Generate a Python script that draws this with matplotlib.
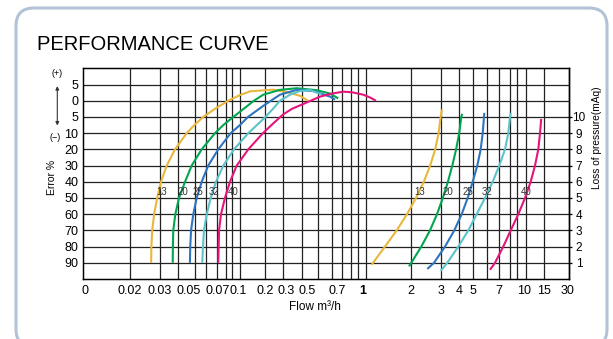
import numpy as np
import matplotlib
matplotlib.use("Agg")
import matplotlib.pyplot as plt
from matplotlib.patches import FancyBboxPatch, FancyArrowPatch
from matplotlib.transforms import IdentityTransform, ScaledTranslation

plt.rcParams["font.family"] = ["Liberation Sans", "DejaVu Sans"]

# printed flow ruler of the chart paper (m3/h) and where its lines fall (px)
SCALE_FLOW = [0.01, 0.02, 0.03, 0.05, 0.06, 0.07, 0.08, 0.09, 0.1, 0.12, 0.2, 0.3, 0.5,
              0.6, 0.7, 0.8, 0.9, 0.95, 1, 2, 3, 4, 5, 6, 7, 8, 9, 10, 15, 30]
SCALE_POS = [82.7, 130, 160, 177.7, 194.7, 205.7, 216.7, 226, 232.3, 240, 264.7, 283.3, 302.3,
             318.3, 332, 341.7, 351, 358.3, 365.7, 410.7, 440.7, 459, 473.3, 487.3, 499.3,
             510, 517.3, 525.7, 544, 569.3]

flow_ticks = [0, 0.02, 0.03, 0.05, 0.07, 0.1, 0.2, 0.3, 0.5, 0.7, 1, 2, 3, 4, 5, 7, 10, 15, 30]
flow_labels = ["0", "0.02", "0.03", "0.05", "0.07", "0.1", "0.2", "0.3", "0.5", "0.7",
               "1", "2", "3", "4", "5", "7", "10", "15", "30"]
# the printed labels sit a little off their lines (px)
label_shift = {"0": 2, "0.05": 11, "0.07": 12, "0.1": 6, "0.3": 3, "0.5": 4.5, "0.7": 5,
               "1": -3, "10": -1.5, "30": -1.5}

error_ticks = [-90, -80, -70, -60, -50, -40, -30, -20, -10, -5, 0, 5]
error_labels = ["90", "80", "70", "60", "50", "40", "30", "20", "10", "5", "0", "5"]
loss_ticks = [1, 2, 3, 4, 5, 6, 7, 8, 9, 10]

meters = ["13", "20", "25", "32", "40"]
colors = ["#E9B73A", "#00A651", "#2E74BF", "#5BC3CB", "#E6157B"]

# error curves: flow (m3/h) vs error (%)
err13_flow = [0.0266, 0.0267, 0.0270, 0.0277, 0.0289, 0.0309, 0.0364, 0.0463, 0.0551, 0.0598,
              0.0677, 0.0783, 0.0935, 0.120, 0.148, 0.240, 0.329, 0.470, 0.535]
err13_val = [-90, -80, -70, -60, -50, -40, -30, -20, -10, -7.5, -5, -2.5, 0, 1.75, 2.9, 3.4,
             2.7, 1.5, 0]
err20_flow = [0.0433, 0.0435, 0.0440, 0.0467, 0.0507, 0.0541, 0.0581, 0.0662, 0.0784, 0.087,
              0.1024, 0.120, 0.160, 0.194, 0.279, 0.430, 0.589, 0.685, 0.763]
err20_val = [-90, -80, -70, -60, -50, -40, -30, -20, -10, -7.5, -5, -3.4, 0, 1.85, 3.35, 3.85,
             3.25, 2.2, 0.7]
err25_flow = [0.0570, 0.0572, 0.0577, 0.0591, 0.0617, 0.0662, 0.0722, 0.0816, 0.0974, 0.120,
              0.1416, 0.194, 0.229, 0.279, 0.430, 0.567, 0.685, 0.730]
err25_val = [-90, -80, -70, -60, -50, -40, -30, -20, -10, -7.5, -5, -1.6, 0, 1.85, 3.35, 3.0,
             1.25, 0.35]
err32_flow = [0.0667, 0.0674, 0.0683, 0.0709, 0.0744, 0.0793, 0.0870, 0.1041, 0.1425, 0.1705,
              0.2035, 0.2396, 0.2792, 0.3592, 0.4701, 0.5458, 0.6254]
err32_val = [-90, -80, -70, -60, -50, -40, -30, -20, -10, -7.5, -5, -2.5, 0, 1.85, 3.0, 3.3, 1.9]
err40_flow = [0.0816, 0.0820, 0.0824, 0.0845, 0.0888, 0.0962, 0.111, 0.1425, 0.193, 0.241,
              0.300, 0.379, 0.506, 0.611, 0.700, 0.816, 0.907, 0.984, 1.069, 1.172]
err40_val = [-90, -80, -70, -60, -50, -40, -30, -20, -10, -7, -4.2, -2.5, -1.0, 1.25, 2.2, 2.8,
             2.6, 1.85, 1.0, 0]

# pressure loss curves: flow (m3/h) vs loss (mAq)
p13_flow = [1.097, 1.119, 1.346, 1.612, 1.889, 2.148, 2.388, 2.603, 2.785, 2.917, 2.996, 3.062]
p13_loss = [0.87, 1, 2, 3, 4, 5, 6, 7, 8, 9, 10, 10.46]
p20_flow = [1.949, 2.016, 2.308, 2.596, 2.854, 3.101, 3.360, 3.601, 3.822, 4.012, 4.147, 4.212]
p20_loss = [0.78, 1, 2, 3, 4, 5, 6, 7, 8, 9, 10, 10.19]
p25_flow = [2.503, 2.741, 3.211, 3.715, 4.173, 4.581, 4.954, 5.268, 5.506, 5.651, 5.747, 5.770]
p25_loss = [0.62, 1, 2, 3, 4, 5, 6, 7, 8, 9, 10, 10.25]
p32_flow = [3.0, 3.328, 3.957, 4.626, 5.227, 5.823, 6.432, 7.0, 7.516, 7.833, 8.0, 8.091]
p32_loss = [0.5, 1, 2, 3, 4, 5, 6, 7, 8, 9, 10, 10.25]
p40_flow = [6.212, 6.624, 7.357, 8.091, 9.115, 9.913, 11.17, 12.29, 13.22, 13.73, 14.1]
p40_loss = [0.57, 1, 2, 3, 4, 5, 6, 7, 8, 9, 9.88]

# where the meter sizes are written on the curves
err_label_flow = [0.0315, 0.0531, 0.0631, 0.0777, 0.1024]
err_label_val = -46.5
loss_label_flow = [2.247, 3.349, 4.581, 5.954, 10.22]
loss_label_val = 5.35


def flow_to_pos(x):
    x = np.clip(np.asarray(x, dtype=float), SCALE_FLOW[0], None)
    return np.interp(np.log10(x), np.log10(SCALE_FLOW), SCALE_POS)


def pos_to_flow(p):
    return 10 ** np.interp(np.asarray(p, dtype=float), SCALE_POS, np.log10(SCALE_FLOW))


def err_row(e):
    # error % rows are printed unevenly (5, 0, 5, 10, 20 ... 90)
    return np.interp(e, error_ticks, np.arange(1, len(error_ticks) + 1))


fig = plt.figure(figsize=(6.13, 3.39), dpi=100)
ax = fig.add_axes([82.7 / 613, 60 / 339, 486.6 / 613, 210.7 / 339])
ax.set_xscale("function", functions=(flow_to_pos, pos_to_flow))
ax.set_xlim(0, 30)
ax.set_ylim(0, 13)

# chart paper grid
for f in SCALE_FLOW[1:-1]:
    ax.axvline(f, color="#222222", lw=0.9, zorder=1)
for r in range(1, 13):
    ax.axhline(r, color="#222222", lw=0.9, zorder=1)
for s in ax.spines.values():
    s.set_linewidth(1.0)

err_curves = [(err13_flow, err13_val), (err20_flow, err20_val), (err25_flow, err25_val),
              (err32_flow, err32_val), (err40_flow, err40_val)]
loss_curves = [(p13_flow, p13_loss), (p20_flow, p20_loss), (p25_flow, p25_loss),
               (p32_flow, p32_loss), (p40_flow, p40_loss)]

for i, m in enumerate(meters):
    fx, ev = err_curves[i]
    ax.plot(fx, err_row(ev), color=colors[i], lw=1.5, zorder=3, solid_capstyle="butt")
    fx, lv = loss_curves[i]
    ax.plot(fx, lv, color=colors[i], lw=1.5, zorder=3, solid_capstyle="butt")
    ax.text(err_label_flow[i], err_row(err_label_val), m, fontsize=7, color="#333333",
            ha="center", va="center", zorder=4)
    ax.text(loss_label_flow[i], loss_label_val, m, fontsize=7, color="#333333",
            ha="center", va="center", zorder=4)

ax.set_xticks(flow_ticks)
ax.set_xticklabels(flow_labels)
ax.xaxis.set_minor_locator(matplotlib.ticker.NullLocator())
ax.tick_params(axis="x", length=0, pad=4, labelsize=9)
for lbl in ax.get_xticklabels():
    txt = lbl.get_text()
    if txt == "1":
        lbl.set_fontweight("bold")
    if txt in label_shift:
        lbl.set_transform(lbl.get_transform() +
                          ScaledTranslation(label_shift[txt] / 100, 0, fig.dpi_scale_trans))

ax.set_yticks(err_row(error_ticks))
ax.set_yticklabels(error_labels)
ax.tick_params(axis="y", length=0, pad=3, labelsize=9)

ax2 = ax.twinx()
ax2.set_ylim(0, 13)
ax2.set_yticks(loss_ticks)
ax2.set_yticklabels([str(v) for v in loss_ticks], ha="center")
ax2.tick_params(axis="y", length=2.2, width=0.9, pad=4.8, labelsize=8.5)
ax2.spines["right"].set_linewidth(1.0)

ax.set_xlabel("Flow m³/h", fontsize=8.5)
ax.xaxis.set_label_coords(0.478, -0.105)
ax.set_ylabel("Error %", fontsize=7.5)
ax.yaxis.set_label_coords(-0.0534, 0.484)
ax2.set_ylabel("Loss of pressure(mAq)", fontsize=7.3)
ax2.yaxis.set_label_coords(1.046, 0.669)

fig.text(37 / 613, (339 - 50) / 339, "PERFORMANCE CURVE", fontsize=14.5, va="baseline", ha="left")

# (+)/(-) marker with double arrow
fig.text(56.7 / 613, (339 - 74) / 339, "(+)", fontsize=6.5, ha="center", va="center")
fig.text(55 / 613, (339 - 138) / 339, "(−)", fontsize=6.5, ha="center", va="center")
fig.add_artist(FancyArrowPatch((57.3, 339 - 83.3), (57.3, 339 - 128.3), transform=IdentityTransform(),
                               arrowstyle="<|-|>", mutation_scale=5, lw=0.8, color="#333333"))

# rounded panel frame
fig.add_artist(FancyBboxPatch((16, -8), 591, 339, boxstyle="round,pad=0,rounding_size=18",
                              transform=IdentityTransform(), fill=False, ec="#B3C3D6", lw=2.2))

fig.savefig("out.png", dpi=100)
